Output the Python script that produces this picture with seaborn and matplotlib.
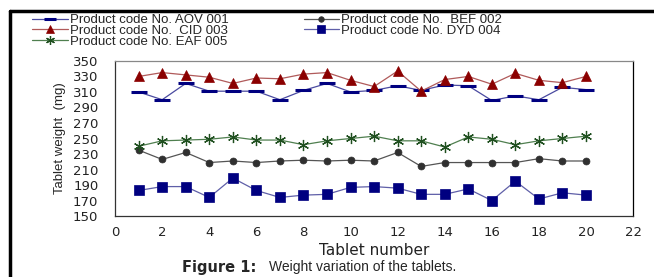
import numpy as np
import pandas as pd
import matplotlib
matplotlib.use("Agg")
import matplotlib.pyplot as plt
import seaborn as sns

# data
tablets = list(range(1, 21))
aov_001 = [310, 300, 321, 311, 311, 311, 300, 312, 321, 310,
           312, 318, 312, 319, 318, 299, 305, 300, 316, 313]
bef_002 = [235, 223, 232, 219, 221, 219, 221, 222, 221, 222,
           221, 232, 214, 219, 219, 219, 219, 224, 221, 221]
cid_003 = [330, 335, 332, 329, 321, 328, 327, 333, 335, 325,
           317, 337, 311, 326, 330, 320, 334, 325, 322, 330]
dyd_004 = [183, 188, 188, 174, 199, 183, 174, 177, 178, 187,
           188, 186, 178, 178, 185, 170, 195, 172, 180, 177]
eaf_005 = [240, 247, 248, 249, 252, 248, 248, 242, 247, 250,
           253, 247, 247, 239, 252, 249, 242, 247, 250, 253]

labels = ["Product code No. AOV 001", "Product code No.  BEF 002",
          "Product code No.  CID 003", "Product code No. DYD 004",
          "Product code No. EAF 005"]
x_ticks = list(range(0, 23, 2))
y_ticks = list(range(150, 351, 20))

sns.set_style("white")
plt.rcParams['font.family'] = ['Liberation Sans', 'DejaVu Sans']

fig = plt.figure(figsize=(6.54, 2.77), dpi=100)
ax = fig.add_axes([0.176, 0.22, 0.792, 0.56])

styles = [
    (aov_001, "#4a4aa0", "_", "#000080", 11, 2.2),
    (bef_002, "#555555", "o", "#303030", 5, 0.5),
    (cid_003, "#b05a5a", "^", "#8b0000", 7, 0.5),
    (dyd_004, "#5f5fa8", "s", "#000080", 7, 0.5),
    (eaf_005, "#4f7f4f", (6, 2, 0), "#1f4f1f", 8, 0.9),
]
for (vals, lc, mk, mc, ms, mew), lab in zip(styles, labels):
    df = pd.DataFrame({"tablet": tablets, "weight": vals})
    sns.lineplot(data=df, x="tablet", y="weight", ax=ax, color=lc, lw=0.9,
                 marker=mk, markersize=ms, markerfacecolor=mc,
                 markeredgecolor=mc, markeredgewidth=mew, label=lab)

ax.set_xlim(0, 22)
ax.set_ylim(150, 350)
ax.set_xticks(x_ticks)
ax.set_yticks(y_ticks)
ax.tick_params(axis="x", direction="in", length=4, pad=7)
ax.tick_params(axis="y", direction="inout", length=6, pad=9)
ax.tick_params(colors="#222222", width=0.8, labelsize=9.5,
               labelfontfamily="DejaVu Sans")
for name, sp in ax.spines.items():
    sp.set_color("#888888")
    sp.set_linewidth(0.9)
ax.spines["right"].set_color("black")
ax.spines["left"].set_color("#333333")
ax.spines["bottom"].set_color("#333333")

ax.set_xlabel("Tablet number", fontsize=11, labelpad=3, family="DejaVu Sans",
              color="#222222")
ax.set_ylabel("Tablet weight  (mg)", fontsize=9.5, labelpad=5,
              family=["Liberation Sans Narrow", "Liberation Sans"])

h, l = ax.get_legend_handles_labels()
ax.get_legend().remove()
order = [0, 2, 4, 1, 3]
fig.legend([h[i] for i in order], [l[i] for i in order], ncol=2,
           loc="upper left", bbox_to_anchor=(0.037, 0.978), frameon=False,
           fontsize=9.5, handlelength=2.7, handletextpad=0.15,
           labelspacing=-0.12, columnspacing=5.7, borderpad=0.1,
           markerscale=0.8)

# frame lines of the figure
fig.add_artist(plt.Line2D([0.016, 0.016], [0, 0.96], color="black", lw=2.5,
                          transform=fig.transFigure))
fig.add_artist(plt.Line2D([0.015, 1.0], [0.96, 0.96], color="black", lw=2.5,
                          transform=fig.transFigure))

fig.text(0.278, 0.036, "Figure 1:", ha="left", va="center", fontsize=10.5,
         fontweight="heavy", family="DejaVu Sans")
fig.text(0.411, 0.036, "Weight variation of the tablets.", ha="left",
         va="center", fontsize=10)

fig.savefig("out.png", dpi=100)
